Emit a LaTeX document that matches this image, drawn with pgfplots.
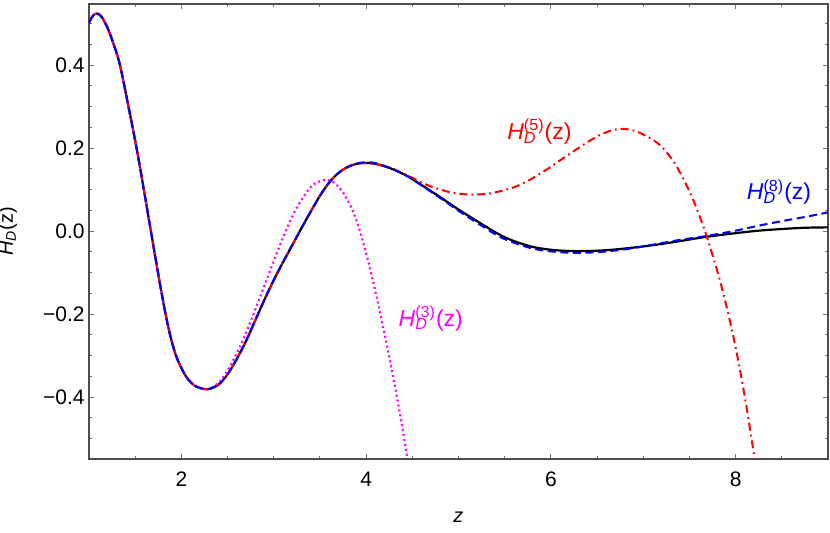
\documentclass[border=0pt]{standalone}
\usepackage{fontspec}
\setmainfont{Liberation Sans}
\usepackage{pgfplots}
\usepackage{pgfplotstable}
\pgfplotsset{compat=1.18}

\definecolor{hRed}{rgb}{1,0,0}
\definecolor{hBlue}{rgb}{0,0,1}
\definecolor{hMag}{rgb}{1,0,1}

\newcommand{\HD}[1]{\textit{H}\rlap{\textsubscript{\textit{D}}}\textsuperscript{(#1)}(z)}

% exact curve
\pgfplotstableread{
z y
1.00 0.502
1.04 0.518
1.08 0.524
1.13 0.518
1.20 0.490
1.27 0.448
1.335 0.400
1.42 0.308
1.515 0.200
1.59 0.105
1.67 0.000
1.75 -0.104
1.82 -0.190
1.88 -0.252
1.95 -0.305
2.05 -0.350
2.15 -0.373
2.28 -0.381
2.40 -0.370
2.50 -0.345
2.60 -0.308
2.70 -0.265
2.80 -0.215
2.90 -0.165
3.00 -0.118
3.10 -0.075
3.21 -0.030
3.30 0.007
3.39 0.043
3.50 0.085
3.60 0.117
3.70 0.140
3.80 0.154
3.90 0.162
4.00 0.164
4.10 0.162
4.20 0.156
4.30 0.148
4.45 0.132
4.60 0.111
4.80 0.082
5.00 0.052
5.20 0.024
5.44 -0.008
5.60 -0.024
5.80 -0.038
6.00 -0.045
6.20 -0.048
6.40 -0.048
6.60 -0.046
6.80 -0.042
7.00 -0.037
7.20 -0.031
7.40 -0.024
7.68 -0.014
8.00 -0.005
8.25 0.001
8.50 0.005
8.75 0.008
9.00 0.009
}\exact

% third order
\pgfplotstableread{
z y
1.00 0.502
1.04 0.518
1.08 0.524
1.13 0.518
1.20 0.490
1.27 0.448
1.335 0.400
1.42 0.308
1.515 0.200
1.59 0.105
1.67 0.000
1.75 -0.104
1.82 -0.190
1.88 -0.252
1.95 -0.305
2.05 -0.350
2.15 -0.373
2.28 -0.381
2.40 -0.366
2.50 -0.336
2.60 -0.294
2.70 -0.245
2.85 -0.160
3.03 -0.055
3.21 0.040
3.39 0.104
3.50 0.120
3.57 0.123
3.65 0.117
3.75 0.093
3.85 0.052
3.93 0.002
4.02 -0.070
4.11 -0.155
4.20 -0.248
4.29 -0.348
4.37 -0.445
4.45 -0.550
4.52 -0.640
}\orderthree

% fifth order
\pgfplotstableread{
z y
1.00 0.502
1.04 0.518
1.08 0.524
1.13 0.518
1.20 0.490
1.27 0.448
1.335 0.400
1.42 0.308
1.515 0.200
1.59 0.105
1.67 0.000
1.75 -0.104
1.82 -0.190
1.88 -0.252
1.95 -0.305
2.05 -0.350
2.15 -0.373
2.28 -0.381
2.40 -0.370
2.50 -0.345
2.60 -0.308
2.70 -0.265
2.80 -0.215
2.90 -0.165
3.00 -0.118
3.10 -0.075
3.21 -0.030
3.30 0.007
3.39 0.043
3.50 0.085
3.60 0.117
3.70 0.140
3.80 0.154
3.90 0.162
4.00 0.164
4.10 0.162
4.20 0.156
4.30 0.149
4.45 0.134
4.60 0.117
4.72 0.106
4.90 0.094
5.05 0.089
5.19 0.088
5.35 0.091
5.50 0.099
5.63 0.108
5.80 0.127
5.98 0.152
6.15 0.178
6.34 0.206
6.50 0.228
6.65 0.242
6.77 0.246
6.90 0.242
7.06 0.226
7.20 0.203
7.35 0.160
7.50 0.096
7.60 0.042
7.68 -0.008
7.80 -0.095
7.90 -0.180
8.00 -0.280
8.10 -0.400
8.20 -0.540
8.25 -0.620
}\orderfive

% eighth order
\pgfplotstableread{
z y
1.00 0.502
1.04 0.518
1.08 0.524
1.13 0.518
1.20 0.490
1.27 0.448
1.335 0.400
1.42 0.308
1.515 0.200
1.59 0.105
1.67 0.000
1.75 -0.104
1.82 -0.190
1.88 -0.252
1.95 -0.305
2.05 -0.350
2.15 -0.373
2.28 -0.381
2.40 -0.370
2.50 -0.345
2.60 -0.308
2.70 -0.265
2.80 -0.215
2.90 -0.165
3.00 -0.118
3.10 -0.075
3.21 -0.030
3.30 0.007
3.39 0.043
3.50 0.085
3.60 0.117
3.70 0.140
3.80 0.155
3.90 0.163
4.00 0.166
4.10 0.164
4.20 0.157
4.30 0.148
4.45 0.132
4.60 0.110
4.80 0.080
5.00 0.049
5.20 0.020
5.44 -0.013
5.60 -0.028
5.80 -0.042
6.00 -0.049
6.20 -0.052
6.40 -0.052
6.60 -0.049
6.80 -0.044
7.00 -0.037
7.20 -0.029
7.40 -0.021
7.68 -0.012
8.00 0.001
8.25 0.013
8.50 0.024
8.75 0.034
9.00 0.045
}\ordereight

\begin{document}
\begin{tikzpicture}
  \begin{axis}[
      at={(0,0)}, anchor=south west,
      width=369.5pt, height=227.5pt, scale only axis,
      xmin=1, xmax=9, ymin=-0.549, ymax=0.547,
      xtick={2,4,6,8}, xticklabels={2,4,6,8},
      minor xtick={1.5,2.5,3,3.5,4.5,5,5.5,6.5,7,7.5,8.5},
      ytick={-0.4,-0.2,0,0.2,0.4},
      yticklabels={−0.4,−0.2,0.0,0.2,0.4},
      minor ytick={-0.5,-0.45,-0.35,-0.3,-0.25,-0.15,-0.1,-0.05,0.05,0.1,0.15,0.25,0.3,0.35,0.45,0.5},
      tick align=inside, tick pos=both,
      major tick length=2.5pt, minor tick length=1.4pt,
      every tick/.style={black!55, line width=0.5pt},
      axis line style={black!70, line width=0.6pt},
      tick label style={font=\fontsize{10.5}{12}\selectfont},
      yticklabel style={xshift=1.3pt},
      xticklabel style={yshift=-3pt},
      xlabel={\textit{z}},
      ylabel={\textit{H}\textsubscript{\textit{D}}(z)},
      label style={font=\fontsize{11}{13}\selectfont},
      every axis x label/.style={at={(axis description cs:0.5,0)}, anchor=center, yshift=-29pt},
      every axis y label/.style={at={(axis description cs:-0.088,0.5)}, anchor=south, rotate=90},
    ]
    \addplot[black, line width=1.1pt, smooth] table[x=z, y=y] {\exact};
    \addplot[hMag, line width=1.1pt, smooth, dash pattern=on 1pt off 1.5pt] table[x=z, y=y] {\orderthree};
    \addplot[hRed, line width=1pt, smooth, dash pattern=on 4pt off 2pt on 0.9pt off 2pt] table[x=z, y=y] {\orderfive};
    \addplot[hBlue, line width=1pt, smooth, dash pattern=on 4pt off 2.3pt] table[x=z, y=y] {\ordereight};

    \node[text=hRed, font=\fontsize{11.5}{13}\selectfont] at (axis cs:5.876,0.239) {\HD{5}};
    \node[text=hBlue, font=\fontsize{11.5}{13}\selectfont] at (axis cs:8.47,0.094) {\HD{8}};
    \node[text=hMag, font=\fontsize{11.5}{13}\selectfont] at (axis cs:4.70,-0.21) {\HD{3}};
  \end{axis}
  \pgfresetboundingbox
  \path[use as bounding box] (-44.5pt,-37pt) rectangle (370.5pt,229.5pt);
\end{tikzpicture}
\end{document}
